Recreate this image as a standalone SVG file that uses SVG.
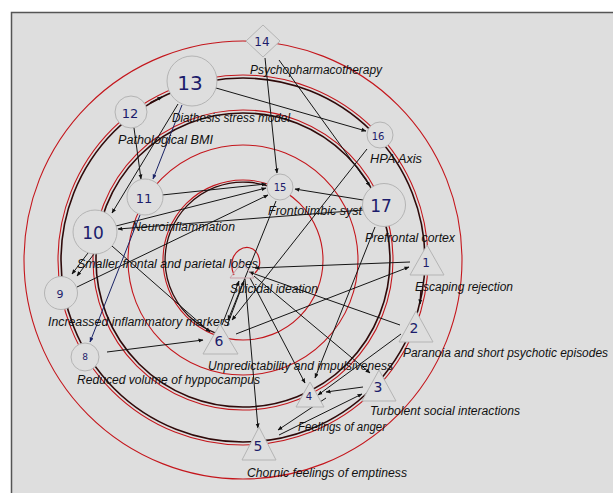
<svg xmlns="http://www.w3.org/2000/svg" width="613" height="493" viewBox="0 0 613 493">
<defs>
<marker id="ah" viewBox="0 0 10 10" refX="9" refY="5" markerWidth="5" markerHeight="5" orient="auto" markerUnits="userSpaceOnUse"><path d="M0,1 L10,5 L0,9 z" fill="#111"/></marker>
<marker id="ahb" viewBox="0 0 10 10" refX="9" refY="5" markerWidth="5" markerHeight="5" orient="auto" markerUnits="userSpaceOnUse"><path d="M0,1 L10,5 L0,9 z" fill="#1a2366"/></marker>
</defs>
<style>
.ring{fill:none;stroke:#c4161c;stroke-width:1.1}
.dark{fill:none;stroke:#2e0a0a;stroke-width:1.6}
.e{stroke:#151515;stroke-width:1;fill:none;marker-end:url(#ah)}
.eb{stroke:#1a2366;stroke-width:1;fill:none;marker-end:url(#ahb)}
.nd{fill:#dedede;stroke:#b4b4b4;stroke-width:1}
.num{font-family:"DejaVu Sans",Verdana,sans-serif;fill:#1c1c6b;text-anchor:middle;dominant-baseline:central}
.lbl{font-family:"Liberation Sans",Arial,sans-serif;font-style:italic;font-size:12px;fill:#111}
</style>
<rect x="0" y="0" width="613" height="493" fill="#ffffff"/>
<rect x="11" y="12" width="602" height="481" fill="#dedede"/>
<path d="M11.5,493 L11.5,12.5 L613,12.5" fill="none" stroke="#555" stroke-width="1.5"/>

<g id="rings">
<circle class="ring" cx="243" cy="260" r="219"/>
<circle class="ring" cx="243" cy="260" r="185"/>
<circle class="ring" cx="243" cy="260" r="150"/>
<circle class="ring" cx="243" cy="260" r="115"/>
<circle class="ring" cx="243" cy="260" r="80"/>
</g>

<g id="connectors">
<circle class="dark" cx="243" cy="260" r="182"/>
<circle class="dark" cx="243" cy="260" r="147"/>
<path class="dark" style="stroke-width:1.3" d="M278.4,190.5 A78,78 0 1 0 221.5,335"/>
<path d="M150,103 L162,97" stroke="#2e0a0a" stroke-width="1.5" marker-end="url(#ah)"/>
<path d="M421,290 L420,304" stroke="#2e0a0a" stroke-width="1.5" marker-end="url(#ah)"/>
<path d="M234,275 C224,252 250,238 258,255 C262,264 258,270 255,273" fill="none" stroke="#c4161c" stroke-width="1.2"/>

<line class="e" x1="265" y1="58" x2="277" y2="173"/>
<line class="e" x1="279" y1="60" x2="370" y2="186"/>
<line class="e" x1="216" y1="88" x2="366" y2="131"/>
<line class="eb" x1="182" y1="105" x2="153" y2="179"/>
<line class="e" x1="134" y1="128" x2="141" y2="179"/>
<line class="e" x1="178" y1="104" x2="112" y2="213"/>
<line class="e" x1="162" y1="195" x2="266" y2="184"/>
<line class="e" x1="116" y1="226" x2="266" y2="188"/>
<line class="e" x1="77" y1="287" x2="268" y2="195"/>
<line class="e" x1="363" y1="200" x2="295" y2="189"/>
<line class="e" x1="363" y1="210" x2="118" y2="229"/>
<line class="e" x1="88" y1="253" x2="72" y2="274"/>
<line class="e" x1="94" y1="254" x2="77" y2="276"/>
<line class="e" x1="112" y1="246" x2="210" y2="332"/>
<line class="eb" x1="140" y1="215" x2="90" y2="342"/>
<line class="e" x1="107" y1="352" x2="203" y2="340"/>
<line class="e" x1="410" y1="262" x2="255" y2="268"/>
<line class="e" x1="236" y1="334" x2="409" y2="267"/>
<line class="e" x1="400" y1="325" x2="249" y2="272"/>
<line class="e" x1="401" y1="334" x2="318" y2="395"/>
<line class="e" x1="363" y1="387" x2="326" y2="392"/>
<line class="e" x1="326" y1="398" x2="278" y2="430"/>
<line class="e" x1="279" y1="435" x2="362" y2="394"/>
<line class="e" x1="250" y1="278" x2="305" y2="383"/>
<line class="e" x1="254" y1="276" x2="370" y2="373"/>
<line class="e" x1="245" y1="279" x2="258" y2="428"/>
<line class="e" x1="375" y1="227" x2="315" y2="378"/>
<line class="e" x1="367" y1="149" x2="232" y2="320"/>
<line class="e" x1="276" y1="201" x2="228" y2="320"/>
<line class="e" x1="222" y1="325" x2="239" y2="281"/>
<line class="e" x1="227" y1="326" x2="244" y2="281"/>
</g>

<g id="labels">
<text class="lbl" x="250" y="74" textLength="132" lengthAdjust="spacingAndGlyphs">Psychopharmacotherapy</text>
<text class="lbl" x="172" y="122" textLength="118" lengthAdjust="spacingAndGlyphs">Diathesis stress model</text>
<text class="lbl" x="118" y="144" textLength="95" lengthAdjust="spacingAndGlyphs">Pathological BMI</text>
<text class="lbl" x="370" y="163" textLength="52" lengthAdjust="spacingAndGlyphs">HPA Axis</text>
<text class="lbl" x="268" y="215" textLength="94" lengthAdjust="spacingAndGlyphs">Frontolimbic syst</text>
<text class="lbl" x="365" y="242" textLength="90" lengthAdjust="spacingAndGlyphs">Prefrontal cortex</text>
<text class="lbl" x="132" y="231" textLength="103" lengthAdjust="spacingAndGlyphs">Neuroinflammation</text>
<text class="lbl" x="77" y="268" textLength="181" lengthAdjust="spacingAndGlyphs">Smaller frontal and parietal lobes</text>
<text class="lbl" x="230" y="293" textLength="88" lengthAdjust="spacingAndGlyphs">Suicidal ideation</text>
<text class="lbl" x="415" y="291" textLength="98" lengthAdjust="spacingAndGlyphs">Escaping rejection</text>
<text class="lbl" x="48" y="326" textLength="182" lengthAdjust="spacingAndGlyphs">Increassed inflammatory markers</text>
<text class="lbl" x="403" y="357" textLength="205" lengthAdjust="spacingAndGlyphs">Paranoia and short psychotic episodes</text>
<text class="lbl" x="208" y="370" textLength="185" lengthAdjust="spacingAndGlyphs">Unpredictability and impulsiveness</text>
<text class="lbl" x="77" y="384" textLength="183" lengthAdjust="spacingAndGlyphs">Reduced volume of hyppocampus</text>
<text class="lbl" x="370" y="415" textLength="150" lengthAdjust="spacingAndGlyphs">Turbolent social interactions</text>
<text class="lbl" x="298" y="431" textLength="88" lengthAdjust="spacingAndGlyphs">Feelings of anger</text>
<text class="lbl" x="247" y="477" textLength="160" lengthAdjust="spacingAndGlyphs">Chornic feelings of emptiness</text>
</g>

<g id="node1"><polygon class="nd" points="427,245 444,275 410,275"/><text class="num" x="426" y="263" font-size="12">1</text></g>
<g id="node2"><polygon class="nd" points="416,311 433,342 399,342"/><text class="num" x="414" y="328" font-size="14">2</text></g>
<g id="node3"><polygon class="nd" points="379,370 396,401 362,401"/><text class="num" x="378" y="387" font-size="14">3</text></g>
<g id="node4"><polygon class="nd" points="310,382 324,407 296,407"/><text class="num" x="309" y="396" font-size="10">4</text></g>
<g id="node5"><polygon class="nd" points="259,427 276,460 242,460"/><text class="num" x="258" y="446" font-size="14">5</text></g>
<g id="node6"><polygon class="nd" points="220,324 238,354 203,354"/><text class="num" x="219" y="341" font-size="14">6</text></g>
<g id="node7"><polygon points="242,262 254,278 230,278" fill="none" stroke="#c8a0a8" stroke-width="1"/></g>
<g id="node8"><circle class="nd" cx="85" cy="357" r="14"/><text class="num" x="85" y="357" font-size="9">8</text></g>
<g id="node9"><circle class="nd" cx="61" cy="293" r="16.5"/><text class="num" x="60" y="294" font-size="11">9</text></g>
<g id="node10"><circle class="nd" cx="95" cy="232" r="22"/><text class="num" x="93" y="233" font-size="17">10</text></g>
<g id="node11"><circle class="nd" cx="145" cy="197" r="18"/><text class="num" x="144" y="198" font-size="13">11</text></g>
<g id="node12"><circle class="nd" cx="131" cy="112" r="16"/><text class="num" x="130" y="113" font-size="13">12</text></g>
<g id="node13"><circle class="nd" cx="192" cy="81" r="25"/><text class="num" x="190" y="83" font-size="20">13</text></g>
<g id="node14"><polygon class="nd" points="263,25 280,41 263,57 246,41"/><text class="num" x="262" y="42" font-size="12">14</text></g>
<g id="node15"><circle class="nd" cx="280" cy="187" r="13"/><text class="num" x="280" y="187" font-size="10">15</text></g>
<g id="node16"><circle class="nd" cx="380" cy="135" r="13"/><text class="num" x="378" y="136" font-size="10">16</text></g>
<g id="node17"><circle class="nd" cx="384" cy="205" r="21.5"/><text class="num" x="381" y="206" font-size="17">17</text></g>
</svg>
